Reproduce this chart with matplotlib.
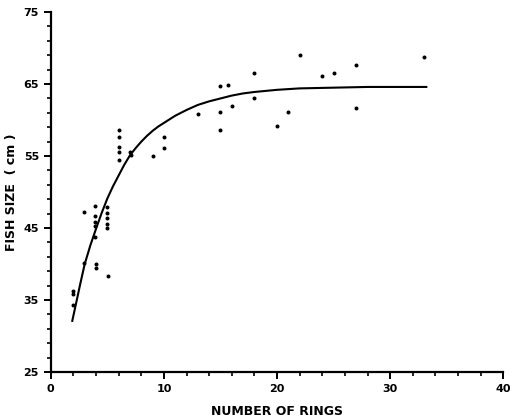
import numpy as np
import matplotlib
matplotlib.use("Agg")
import matplotlib.pyplot as plt
from matplotlib.ticker import MultipleLocator

# observed fish: number of rings vs size (cm)
rings = [2, 2, 2,
         2.9, 2.9,
         3.9, 3.9, 3.9, 3.9, 3.9, 4.0, 4.0,
         5, 5, 5, 5, 5, 5.1,
         6, 6, 6, 6, 6,
         7, 7.1,
         9, 10, 10,
         13, 15, 15, 15, 15.7, 16,
         18, 18, 20, 21, 22, 24, 25, 27, 27, 33]
size_cm = [36.3, 35.9, 34.3,
           47.2, 40.1,
           48.1, 46.6, 45.9, 45.3, 43.8, 40.0, 39.4,
           47.9, 47.1, 46.4, 45.6, 45.0, 38.4,
           58.6, 57.7, 56.2, 55.6, 54.5,
           55.6, 55.1,
           55.0, 57.6, 56.1,
           60.9, 64.7, 61.1, 58.6, 64.9, 62.0,
           66.5, 63.1, 59.2, 61.1, 69.0, 66.1, 66.6, 67.6, 61.7, 68.8]

# fitted growth curve
curve_x = [1.9, 2.3, 2.6, 3.0, 3.5, 4.0, 4.5, 5.0, 5.5, 6.0, 6.5, 7.0, 7.5,
           8.0, 8.5, 9.0, 9.5, 10.0, 11.0, 12.0, 13.0, 14.0, 15.0, 16.0,
           17.0, 18.0, 20.0, 22.0, 25.0, 28.0, 33.2]
curve_y = [32.1, 35.0, 37.2, 40.0, 42.6, 44.9, 47.1, 49.1, 50.8, 52.3, 53.8, 55.1, 56.1,
           57.0, 57.8, 58.5, 59.1, 59.6, 60.6, 61.4, 62.1, 62.6, 63.0, 63.4,
           63.7, 63.9, 64.2, 64.4, 64.5, 64.6, 64.6]

fig = plt.figure(figsize=(5.13, 4.17), dpi=100)
ax = fig.add_axes([0.099, 0.108, 0.882, 0.863])

ax.plot(curve_x, curve_y, color="black", lw=1.5)
ax.scatter(rings, size_cm, s=3.5, color="black", zorder=3)

ax.set_xlim(0, 40)
ax.set_ylim(25, 75)
ax.set_xticks([0, 10, 20, 30, 40])
ax.set_yticks([25, 35, 45, 55, 65, 75])
ax.xaxis.set_minor_locator(MultipleLocator(2))
ax.yaxis.set_minor_locator(MultipleLocator(2, offset=1))

for side in ("top", "right"):
    ax.spines[side].set_visible(False)
for side in ("left", "bottom"):
    ax.spines[side].set_linewidth(1.6)

ax.tick_params(which="major", length=5, width=1.4, labelsize=8)
ax.tick_params(which="minor", length=3, width=1.2)
for lbl in ax.get_xticklabels() + ax.get_yticklabels():
    lbl.set_fontweight("bold")

ax.set_xlabel("NUMBER OF RINGS", fontsize=9, fontweight="bold", labelpad=8)
ax.set_ylabel("FISH SIZE  ( cm )", fontsize=9, fontweight="bold", labelpad=4)

fig.savefig("out.png", dpi=100)
